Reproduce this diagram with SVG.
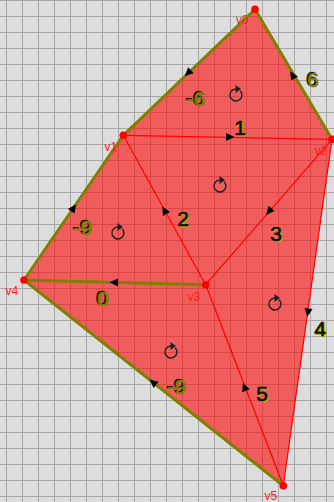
<svg xmlns="http://www.w3.org/2000/svg" xmlns:xlink="http://www.w3.org/1999/xlink" width="334" height="502" viewBox="0 0 334 502">
<style>
.olive{stroke:#808000;stroke-width:3;fill:none;stroke-linecap:round}
.red{stroke:#ff0000;stroke-width:1.2;fill:none}
.vdot{fill:#ff0000}
.vlab{fill:#ff2020;font-family:"Liberation Sans",Arial,sans-serif;font-size:12px}
.lab{font-family:"Liberation Sans",Arial,sans-serif;font-size:21px;text-anchor:middle;stroke-width:0.7}
.lo{fill:#808000;stroke:#808000}
.lk{fill:#111;stroke:#111}
.ly{fill:#b0b000;stroke:#b0b000}
.rot{fill:none;stroke:#222;stroke-width:1.4}
</style>
<defs>
<pattern id="grid" patternUnits="userSpaceOnUse" x="6" y="0" width="16" height="16">
<path d="M0.5,0 V16 M0,0.5 H16" stroke="#a8a8a8" stroke-width="1" fill="none"/>
</pattern>
<path id="ah" d="M4.5,0 L-4,-4 L-4,4 Z" fill="#000"/>
<g id="rot">
<path d="M4.2,-4.2 A6,6 0 1 1 0,-6" class="rot"/>
<path d="M-0.5,-10 L5,-6 L-0.5,-2 Z" fill="#222"/>
</g>
</defs>
<rect width="334" height="502" fill="#dddddd"/>
<rect width="334" height="502" fill="url(#grid)"/>
<g id="mesh">
<polygon points="255,9.3 332,139.3 283.3,485.7 24,280 123.3,135.3" fill="#ff0000" fill-opacity="0.58"/>
</g>
<g id="connectors">
<line class="red" x1="123.3" y1="135.3" x2="332" y2="139.3"/>
<line class="red" x1="123.3" y1="135.3" x2="205.7" y2="284.7"/>
<line class="red" x1="332" y1="139.3" x2="205.7" y2="284.7"/>
<line class="red" x1="205.7" y1="284.7" x2="283.3" y2="485.7"/>
<line class="red" x1="332" y1="139.3" x2="283.3" y2="485.7"/>
<line class="olive" x1="255" y1="9.3" x2="123.3" y2="135.3"/>
<line class="olive" x1="255" y1="9.3" x2="332" y2="139.3"/>
<line class="olive" x1="123.3" y1="135.3" x2="24" y2="280"/>
<line class="olive" x1="24" y1="280" x2="283.3" y2="485.7"/>
<line class="olive" x1="24" y1="280" x2="205.7" y2="284.7"/>
<use xlink:href="#ah" transform="translate(188,73) rotate(136.3)"/>
<use xlink:href="#ah" transform="translate(292.5,75) rotate(-120.6)"/>
<use xlink:href="#ah" transform="translate(230,137) rotate(1.1)"/>
<use xlink:href="#ah" transform="translate(164.5,210.5) rotate(-118.9)"/>
<use xlink:href="#ah" transform="translate(269,211.5) rotate(131)"/>
<use xlink:href="#ah" transform="translate(73.5,208) rotate(-55.5)"/>
<use xlink:href="#ah" transform="translate(114,282.3) rotate(181.5)"/>
<use xlink:href="#ah" transform="translate(308,312.5) rotate(98)"/>
<use xlink:href="#ah" transform="translate(244.5,387) rotate(-111)"/>
<use xlink:href="#ah" transform="translate(153,382.3) rotate(-141.6)"/>
</g>
<g id="faces">
<use xlink:href="#rot" transform="translate(236,95)"/>
<use xlink:href="#rot" transform="translate(220,186)"/>
<use xlink:href="#rot" transform="translate(118,233)"/>
<use xlink:href="#rot" transform="translate(275,304)"/>
<use xlink:href="#rot" transform="translate(171,352)"/>
</g>
<g id="edge-labels">
<text class="lab lk" x="194.6" y="105.4">-6</text><text class="lab lo" x="196" y="106">-6</text>
<text class="lab lk" x="311.6" y="86.4">6</text><text class="lab lo" x="313" y="87">6</text>
<text class="lab lk" x="81.6" y="234.4">-9</text><text class="lab lo" x="83" y="235">-9</text>
<text class="lab lk" x="101.6" y="305.4">0</text><text class="lab lo" x="103" y="306">0</text>
<text class="lab lk" x="175.6" y="393.4">-9</text><text class="lab lo" x="177" y="394">-9</text>
<text class="lab ly" x="241.4" y="135.8">1</text><text class="lab lk" x="240" y="135">1</text>
<text class="lab ly" x="184.4" y="226.8">2</text><text class="lab lk" x="183" y="226">2</text>
<text class="lab ly" x="277.4" y="241.8">3</text><text class="lab lk" x="276" y="241">3</text>
<text class="lab ly" x="321.4" y="336.8">4</text><text class="lab lk" x="320" y="336">4</text>
<text class="lab ly" x="263.4" y="401.8">5</text><text class="lab lk" x="262" y="401">5</text>
</g>
<g id="v0"><circle class="vdot" cx="255" cy="9.3" r="3.8"/><text class="vlab" x="236" y="24">v0</text></g>
<g id="v1"><circle class="vdot" cx="123.3" cy="135.3" r="3.8"/><text class="vlab" x="104.5" y="151">v1</text></g>
<g id="v2"><circle class="vdot" cx="332" cy="139.3" r="3.8"/><text class="vlab" x="314.5" y="155">v2</text></g>
<g id="v3"><circle class="vdot" cx="205.7" cy="284.7" r="3.8"/><text class="vlab" x="187.5" y="300.5">v3</text></g>
<g id="v4"><circle class="vdot" cx="24" cy="280" r="3.8"/><text class="vlab" x="5.5" y="295">v4</text></g>
<g id="v5"><circle class="vdot" cx="283.3" cy="485.7" r="3.8"/><text class="vlab" x="264.5" y="499.5">v5</text></g>
</svg>
